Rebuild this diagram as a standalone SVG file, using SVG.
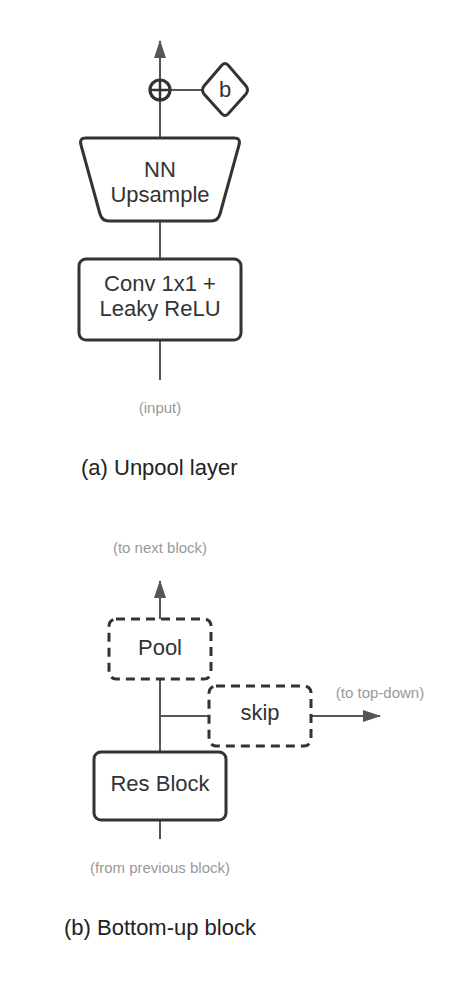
<svg xmlns="http://www.w3.org/2000/svg" width="465" height="1000" viewBox="0 0 465 1000">
<style>
text{font-family:"Liberation Sans",Arial,sans-serif;text-anchor:middle;fill:#333}
.lbl{font-size:22px}
.note{font-size:15px;fill:#999}
.cap{font-size:22px;fill:#222;text-anchor:start}
.box{fill:#fff;stroke:#333;stroke-width:3}
.dash{fill:#fff;stroke:#333;stroke-width:3;stroke-dasharray:9 6}
.ln{stroke:#555;stroke-width:2;fill:none}
</style>
<defs>
<marker id="ah" markerWidth="18" markerHeight="12" viewBox="0 0 18 12" refX="17" refY="6" orient="auto" markerUnits="userSpaceOnUse">
<path d="M0,0 L18,6 L0,12 Z" fill="#555"/>
</marker>
</defs>
<g id="connectors">
<line class="ln" x1="160" y1="80" x2="160" y2="41" marker-end="url(#ah)"/>
<line class="ln" x1="170" y1="90" x2="202" y2="90"/>
<line class="ln" x1="160" y1="101" x2="160" y2="138"/>
<line class="ln" x1="160" y1="221" x2="160" y2="259"/>
<line class="ln" x1="160" y1="340" x2="160" y2="380"/>
<line class="ln" x1="160" y1="619" x2="160" y2="581" marker-end="url(#ah)"/>
<line class="ln" x1="160" y1="679" x2="160" y2="752"/>
<line class="ln" x1="160" y1="716" x2="209" y2="716"/>
<line class="ln" x1="311" y1="716" x2="380" y2="716" marker-end="url(#ah)"/>
<line class="ln" x1="160" y1="820" x2="160" y2="839"/>
</g>
<g id="sum">
<circle cx="160" cy="90" r="10" fill="#fff" stroke="#333" stroke-width="3.2"/>
<line x1="150" y1="90" x2="170" y2="90" stroke="#333" stroke-width="2.5"/>
<line x1="160" y1="80" x2="160" y2="100" stroke="#333" stroke-width="2.5"/>
</g>
<g id="bias">
<path class="box" d="M222,65 Q225,62 228,65 L246,86 Q249,90 246,94 L228,114 Q225,117 222,114 L204,94 Q201,90 204,86 Z"/>
<text class="lbl" x="225" y="97">b</text>
</g>
<g id="upsample">
<path class="box" d="M86,138 L234,138 Q241,138 239,145 L220,214 Q218,221 211,221 L109,221 Q102,221 100,214 L81,145 Q79,138 86,138 Z"/>
<text class="lbl" x="160" y="177">NN</text>
<text class="lbl" x="160" y="202">Upsample</text>
</g>
<g id="conv">
<rect class="box" x="79" y="259" width="162" height="81" rx="7"/>
<text class="lbl" x="160" y="291">Conv 1x1 +</text>
<text class="lbl" x="160" y="316">Leaky ReLU</text>
</g>
<g id="input-label"><text class="note" x="160" y="413">(input)</text></g>
<g id="caption-a"><text class="cap" x="81" y="475">(a) Unpool layer</text></g>
<g id="next-label"><text class="note" x="160" y="553">(to next block)</text></g>
<g id="pool">
<rect class="dash" x="109" y="619" width="102" height="60" rx="7"/>
<text class="lbl" x="160" y="655">Pool</text>
</g>
<g id="skip">
<rect class="dash" x="209" y="686" width="102" height="60" rx="7"/>
<text class="lbl" x="260" y="720">skip</text>
</g>
<g id="topdown-label"><text class="note" x="380" y="698">(to top-down)</text></g>
<g id="resblock">
<rect class="box" x="94" y="752" width="132" height="68" rx="7"/>
<text class="lbl" x="160" y="791">Res Block</text>
</g>
<g id="prev-label"><text class="note" x="160" y="873">(from previous block)</text></g>
<g id="caption-b"><text class="cap" x="64" y="935">(b) Bottom-up block</text></g>
</svg>
